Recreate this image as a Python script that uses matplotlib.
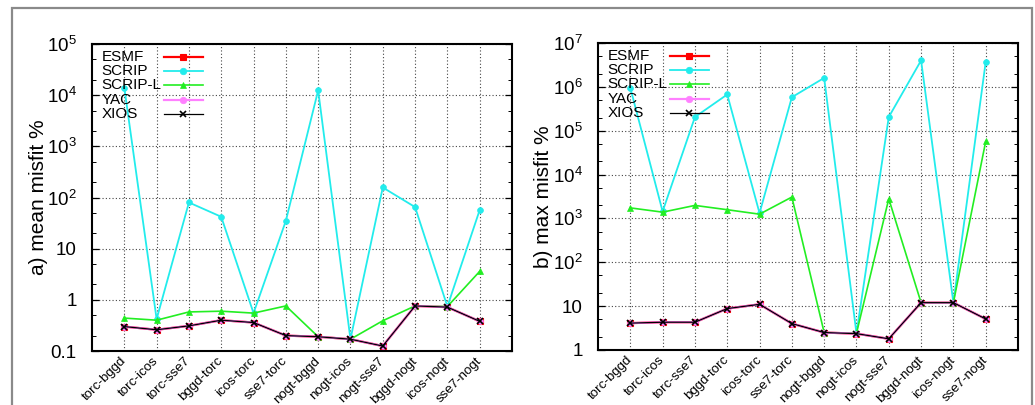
import matplotlib
matplotlib.use("Agg")
import matplotlib.pyplot as plt
from matplotlib.patches import Rectangle
from matplotlib.lines import Line2D
from matplotlib.ticker import FixedLocator, FixedFormatter, LogLocator, NullFormatter

plt.rcParams['font.family'] = ['Liberation Sans', 'DejaVu Sans']
plt.rcParams['mathtext.fontset'] = 'custom'
plt.rcParams['mathtext.rm'] = 'Liberation Sans'
plt.rcParams['mathtext.it'] = 'Liberation Sans:italic'

categories = ["torc-bggd", "torc-icos", "torc-sse7", "bggd-torc", "icos-torc", "sse7-torc",
              "nogt-bggd", "nogt-icos", "nogt-sse7", "bggd-nogt", "icos-nogt", "sse7-nogt"]

series_names = ["ESMF", "SCRIP", "SCRIP-L", "YAC", "XIOS"]

# a) mean misfit %
mean_esmf = [0.30, 0.26, 0.31, 0.40, 0.36, 0.20, 0.19, 0.17, 0.125, 0.76, 0.72, 0.38]
mean_scrip = [1.4e4, 0.42, 80, 42, 0.55, 35, 1.24e4, 0.17, 157, 65, 0.74, 57]
mean_scripl = [0.44, 0.40, 0.58, 0.60, 0.55, 0.76, 0.19, 0.17, 0.39, 0.76, 0.74, 3.6]
mean_yac = [0.30, 0.26, 0.31, 0.40, 0.36, 0.20, 0.19, 0.17, 0.125, 0.76, 0.72, 0.38]
mean_xios = [0.30, 0.26, 0.31, 0.40, 0.36, 0.20, 0.19, 0.17, 0.125, 0.76, 0.72, 0.38]

# b) max misfit %
max_esmf = [4.1, 4.3, 4.3, 8.8, 11, 4.0, 2.5, 2.36, 1.8, 12, 12, 5.1]
max_scrip = [9.5e5, 1440, 2.05e5, 6.7e5, 1320, 5.8e5, 1.6e6, 2.4, 2.05e5, 4.0e6, 12, 3.7e6]
max_scripl = [1740, 1390, 1980, 1580, 1250, 3070, 2.5, 2.4, 2800, 12, 12, 5.7e4]
max_yac = [4.1, 4.3, 4.3, 8.8, 11, 4.0, 2.5, 2.36, 1.8, 12, 12, 5.1]
max_xios = [4.1, 4.3, 4.3, 8.8, 11, 4.0, 2.5, 2.36, 1.8, 12, 12, 5.1]

ylabel_a = "a) mean misfit %"
ylabel_b = "b) max misfit %"
yticks_a = [0.1, 1, 10, 1e2, 1e3, 1e4, 1e5]
yticklabels_a = ["0.1", "1", "10", "$10^{2}\\!\\!$", "$10^{3}\\!\\!$", "$10^{4}\\!\\!$", "$10^{5}\\!\\!$"]
yticks_b = [1, 10, 1e2, 1e3, 1e4, 1e5, 1e6, 1e7]
yticklabels_b = ["1", "10", "$10^{2}\\!\\!$", "$10^{3}\\!\\!$", "$10^{4}\\!\\!$", "$10^{5}\\!\\!$",
                 "$10^{6}\\!\\!$", "$10^{7}\\!\\!$"]

styles = [
    dict(color="#ff0000", marker="s", ms=4, lw=1.6, mew=0.8),
    dict(color="#22ecec", marker="o", ms=4.2, lw=1.3, mew=0.5),
    dict(color="#22ee22", marker="^", ms=4, lw=1.2, mew=0.5),
    dict(color="#ff80ff", marker="o", ms=4.2, lw=1.6, mew=0.5),
    dict(color="#000000", marker="x", ms=4.5, lw=0.9, mew=1.2),
]

fig = plt.figure(figsize=(10.35, 4.05), dpi=100)
fig.patches.append(Rectangle((12 / 1035, -0.1), 1020 / 1035, 1 - 8 / 405 + 0.1,
                             transform=fig.transFigure, fill=False,
                             edgecolor="#8a8a8a", lw=1.6, zorder=0))

ax1 = fig.add_axes([92 / 1035, 1 - 351 / 405, 420 / 1035, 307 / 405])
ax2 = fig.add_axes([598 / 1035, 1 - 350 / 405, 420 / 1035, 307 / 405])

panels = [
    (ax1, [mean_esmf, mean_scrip, mean_scripl, mean_yac, mean_xios], ylabel_a,
     (0.1, 1e5), yticks_a, yticklabels_a, -0.105),
    (ax2, [max_esmf, max_scrip, max_scripl, max_yac, max_xios], ylabel_b,
     (1, 1e7), yticks_b, yticklabels_b, -0.108),
]

x = list(range(len(categories)))
for ax, data, ylab, ylim, yt, ytl, labx in panels:
    ax.set_yscale("log")
    for vals, st in zip(data, styles):
        ax.plot(x, vals, color=st["color"], marker=st["marker"], ms=st["ms"],
                lw=st["lw"], mew=st["mew"], clip_on=True)
    ax.set_xlim(-1, 12)
    ax.set_ylim(*ylim)
    ax.yaxis.set_major_locator(FixedLocator(yt))
    ax.yaxis.set_major_formatter(FixedFormatter(ytl))
    ax.yaxis.set_minor_locator(LogLocator(base=10, subs=(2.0, 5.0)))
    ax.yaxis.set_minor_formatter(NullFormatter())
    ax.set_xticks(x)
    ax.set_xticklabels(categories, rotation=45, ha="right", va="center",
                       rotation_mode="anchor", fontsize=9.6)
    ax.tick_params(axis="y", which="major", direction="in", length=5, width=0.9,
                   labelsize=13.5, pad=11, right=True)
    ax.tick_params(axis="y", which="minor", direction="in", length=3, width=0.7, right=True)
    ax.tick_params(axis="x", direction="in", length=0, pad=6)
    ax.grid(True, which="major", color="#444444", linestyle=(0, (1, 2)), lw=0.8)
    for sp in ax.spines.values():
        sp.set_linewidth(1.5)
    ax.set_ylabel(ylab, fontsize=15)
    ax.yaxis.set_label_coords(labx, 0.5)

    # key (gnuplot style: text left, sample right)
    ys = [0.958, 0.912, 0.865, 0.819, 0.772]
    for name, st, yy in zip(series_names, styles, ys):
        ax.text(0.023, yy, name, transform=ax.transAxes, fontsize=11,
                ha="left", va="center")
        ax.add_line(Line2D([0.171, 0.264], [yy, yy], transform=ax.transAxes,
                           color=st["color"], lw=st["lw"]))
        ax.add_line(Line2D([0.2175], [yy], transform=ax.transAxes,
                           color=st["color"], marker=st["marker"], ms=st["ms"] + 0.5,
                           mew=st["mew"], lw=0))

fig.savefig("out.png", dpi=100)
